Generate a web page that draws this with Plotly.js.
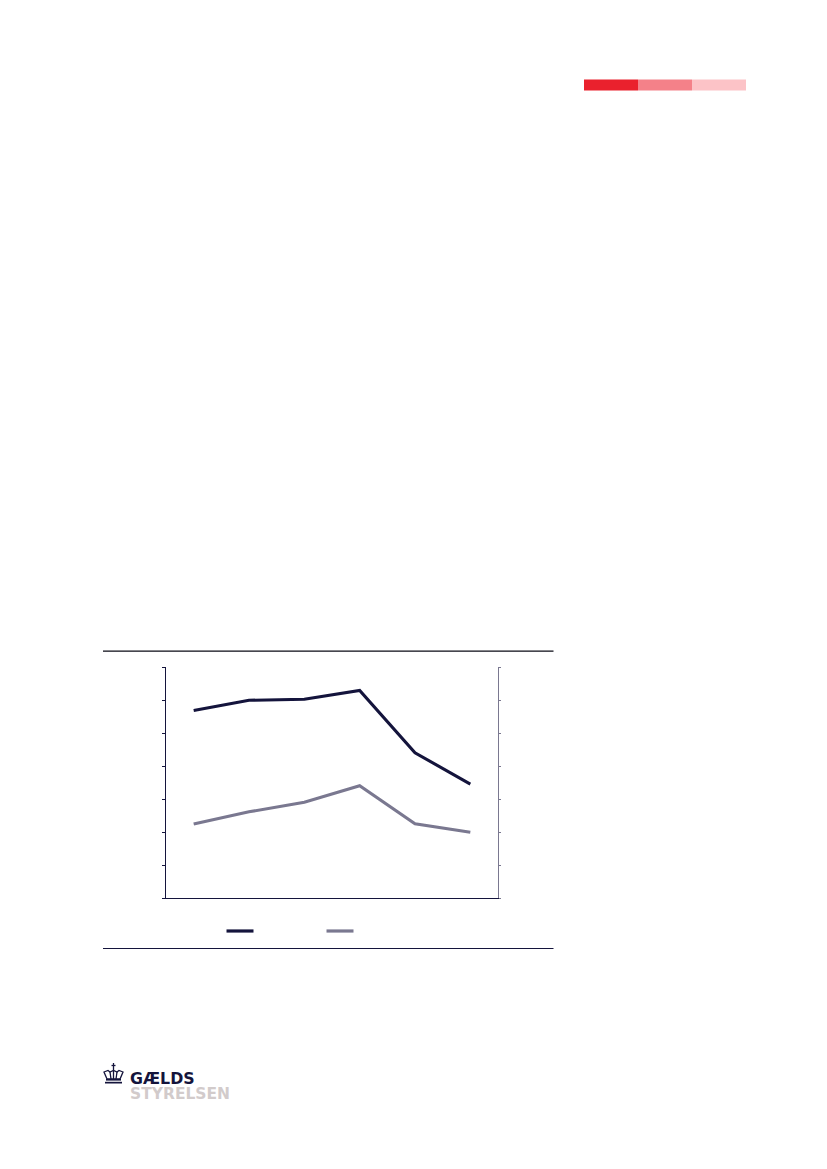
<!DOCTYPE html>
<html><head><meta charset="utf-8">
<script src="https://cdn.plot.ly/plotly-3.0.1.min.js"></script>
<style>html,body{margin:0;padding:0;background:#fff}</style></head>
<body><div id="chart" style="width:827px;height:1169px"></div>
<script>
const categories = ['1','2','3','4','5','6'];
const seriesA = [5.69,6.0,6.03,6.30,4.41,3.46];
const seriesB = [2.25,2.62,2.91,3.41,2.26,2.0];
const axisMax = 7;
const NAVY='#14143c', GREY='#7a7890';
const W=827,H=1169;
const px=x=>x/W, py=y=>1-y/H;
const rect=(x0,y0,x1,y1,c)=>({type:'rect',xref:'paper',yref:'paper',x0:px(x0),x1:px(x1),y0:py(y0),y1:py(y1),fillcolor:c,line:{width:0}});
const hline=(x0,x1,y,c,w)=>({type:'line',xref:'paper',yref:'paper',x0:px(x0),x1:px(x1),y0:py(y),y1:py(y),line:{color:c,width:w}});
const path=(pts,close,opt)=>({type:'path',xref:'paper',yref:'paper',
  path:'M'+pts.map(p=>px(p[0])+','+py(p[1])).join('L')+(close?'Z':''),...opt});
const crownLine={line:{color:NAVY,width:1.3}};
const shapes=[
 rect(584,79.5,638,90.5,'#ea212d'),rect(638,79.5,692,90.5,'#f48189'),rect(692,79.5,746,90.5,'#fcc3c7'),
 rect(103,650.5,553.5,651.8,'#0a0a14'),rect(103,948,553.5,949,NAVY),
 hline(226.5,253.5,931,NAVY,3.2),hline(326.5,353.5,931,GREY,3.2),
 // crown emblem
 path([[113.5,1063],[113.5,1070]],false,crownLine),
 path([[111.5,1065.5],[115.5,1065.5]],false,crownLine),
 path([[107,1079],[104,1072],[108,1070.5],[110,1072],[113.5,1070.5],[117,1072],[119,1070.5],[123,1072],[120,1079]],true,{line:{color:NAVY,width:1.3},fillcolor:'rgba(0,0,0,0)'}),
 path([[110,1072],[111,1079]],false,crownLine),path([[117,1072],[116,1079]],false,crownLine),path([[113.5,1070.5],[113.5,1079]],false,crownLine),
 rect(106,1079,121,1080.6,NAVY),rect(105,1081.8,122,1083.5,NAVY)
];
const common={type:'scatter',mode:'lines',x:categories,showlegend:false};
Plotly.newPlot('chart',[
 {...common,y:seriesA,name:'A',line:{color:NAVY,width:3.1}},
 {...common,y:seriesB,name:'B',yaxis:'y2',line:{color:GREY,width:3.1}}
],{
 width:W,height:H,margin:{l:0,r:0,t:0,b:0},paper_bgcolor:'#fff',plot_bgcolor:'#fff',showlegend:false,
 xaxis:{domain:[166/W,498/W],type:'category',range:[-0.5,5.5],showline:true,linecolor:NAVY,linewidth:1,ticks:'',showticklabels:false,showgrid:false,zeroline:false},
 yaxis:{domain:[1-898.3/H,1-667.3/H],range:[0,axisMax],dtick:1,showline:true,linecolor:NAVY,linewidth:1.2,ticks:'outside',ticklen:3,tickcolor:NAVY,tickwidth:1,showticklabels:false,showgrid:false,zeroline:false},
 yaxis2:{domain:[1-898.3/H,1-667.3/H],range:[0,axisMax],dtick:1,overlaying:'y',side:'right',showline:true,linecolor:GREY,linewidth:1.2,ticks:'outside',ticklen:2,tickcolor:GREY,tickwidth:1,showticklabels:false,showgrid:false,zeroline:false},
 shapes,
 annotations:[
  {text:'<b>GÆLDS</b>',xref:'paper',yref:'paper',x:px(128),y:py(1078.5),xanchor:'left',yanchor:'middle',showarrow:false,font:{family:'DejaVu Sans',size:15.8,color:NAVY}},
  {text:'<b>STYRELSEN</b>',xref:'paper',yref:'paper',x:px(128),y:py(1093.5),xanchor:'left',yanchor:'middle',showarrow:false,font:{family:'DejaVu Sans',size:15.5,color:'#d2cbcb'}}
 ]
},{displayModeBar:false,staticPlot:true});
</script></body></html>
